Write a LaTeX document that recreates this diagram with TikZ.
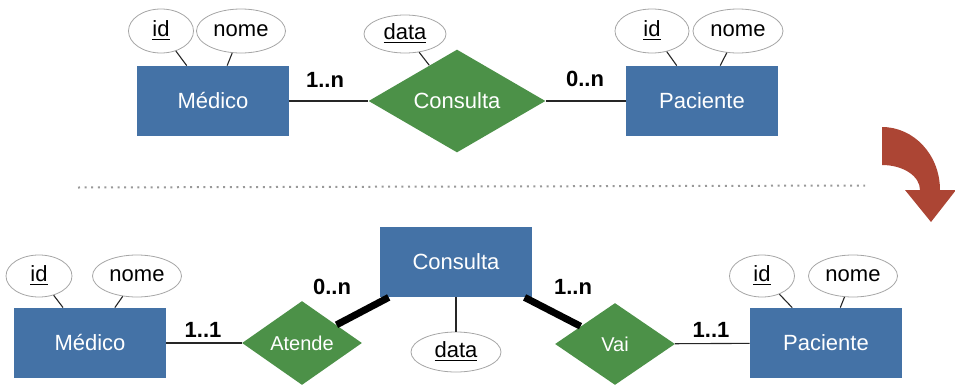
\documentclass[tikz,border=0pt]{standalone}
\usepackage{fontspec}
\setmainfont{Liberation Sans}
\usetikzlibrary{shapes.geometric}
\definecolor{erblue}{RGB}{68,114,166}
\definecolor{ergreen}{RGB}{76,145,72}
\definecolor{erred}{RGB}{172,69,52}

\begin{document}
\begin{tikzpicture}[x=0.5pt,y=-0.5pt,
  entity/.style={fill=erblue,text=white,minimum width=76pt,minimum height=35pt,
                 inner sep=0pt,font=\fontsize{11}{13}\selectfont},
  rel/.style={diamond,fill=ergreen,text=white,inner sep=0pt,
              font=\fontsize{11}{13}\selectfont},
  attr/.style={ellipse,draw=gray!70,fill=white,inner sep=0pt,minimum height=22pt,
               font=\fontsize{11}{13}\selectfont},
  card/.style={font=\bfseries\fontsize{11}{13}\selectfont},
  link/.style={draw=black!85,line width=0.55pt},
  heavy/.style={draw=black,line width=3.5pt}]
\useasboundingbox (0,0) rectangle (955,386);
% before
\node[entity] (medA) at (213,101) {Médico};
\node[rel,minimum width=88.5pt,minimum height=51pt] (consA) at (457,101) {Consulta};
\node[entity] (pacA) at (702,101) {Paciente};
\node[attr,minimum width=32.5pt] (idM) at (161,31) {\underline{id}};
\node[attr,minimum width=44.5pt] (nomeM) at (241,31) {nome};
\node[attr,minimum width=41pt,minimum height=19pt] (dataA) at (405,34) {\underline{data}};
\node[attr,minimum width=37pt] (idP) at (652,31) {\underline{id}};
\node[attr,minimum width=45pt] (nomeP) at (738,31) {nome};
\draw[link] (idM)--(medA);
\draw[link] (nomeM)--(medA);
\draw[link] (dataA)--(consA);
\draw[link] (idP)--(pacA);
\draw[link] (nomeP)--(pacA);
\draw[link] (medA)--(consA);
\draw[link] (consA)--(pacA);
\node[card] (c1) at (325,80) {1..n};
\node[card] (c2) at (585,79) {0..n};
% separator and arrow
\draw[gray!80,line width=1pt,dash pattern=on 1pt off 2.3pt] (78,187.5)--(865,185.5);
\fill[erred] (882,127) .. controls (914,127) and (940,155) .. (940,190) -- (956,190)
  -- (931,222) -- (905,190) -- (920,190) .. controls (920,176) and (903,165) .. (882,165) -- cycle;
% after
\node[entity] (medB) at (90,343) {Médico};
\node[entity] (consB) at (456,262) {Consulta};
\node[entity] (pacB) at (826,343) {Paciente};
\node[rel,minimum width=60pt,minimum height=42pt,font=\fontsize{10}{12}\selectfont] (atende) at (302,343) {Atende};
\node[rel,minimum width=60pt,minimum height=41pt,font=\fontsize{10}{12}\selectfont] (vai) at (615,344) {Vai};
\node[attr,minimum width=33pt,minimum height=21pt] (idB) at (39,276) {\underline{id}};
\node[attr,minimum width=44.5pt,minimum height=21pt] (nomeB) at (137,276) {nome};
\node[attr,minimum width=45pt,minimum height=20pt] (dataB) at (456,352) {\underline{data}};
\node[attr,minimum width=32.5pt,minimum height=21pt] (idQ) at (762,276) {\underline{id}};
\node[attr,minimum width=44.5pt,minimum height=21pt] (nomeQ) at (853,276) {nome};
\draw[link] (idB)--(medB);
\draw[link] (nomeB)--(medB);
\draw[link] (idQ)--(pacB);
\draw[link] (nomeQ)--(pacB);
\draw[link] (dataB)--(consB);
\draw[link] (medB)--(atende);
\draw[link] (vai)--(pacB);
\draw[heavy] (atende)--(consB);
\draw[heavy] (vai)--(consB);
\node[card] (c3) at (203,330) {1..1};
\node[card] (c4) at (332,287) {0..n};
\node[card] (c5) at (573,287) {1..n};
\node[card] (c6) at (711,330) {1..1};
\end{tikzpicture}
\end{document}
